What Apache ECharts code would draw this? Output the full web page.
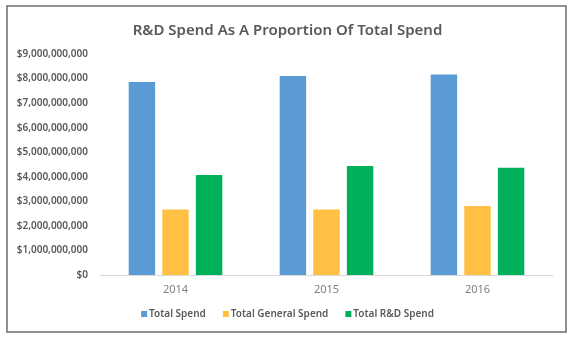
<!DOCTYPE html>
<html>
<head>
<meta charset="utf-8">
<script src="https://cdn.jsdelivr.net/npm/echarts@6/dist/echarts.min.js"></script>
<style>
html,body{margin:0;padding:0;background:#fff;}
#c{width:575px;height:340px;}
</style>
</head>
<body>
<div id="c"></div>
<script>
const categories = ['2014', '2015', '2016'];
const totalSpend = [7860000000, 8100000000, 8170000000];
const generalSpend = [2670000000, 2670000000, 2810000000];
const rdSpend = [4070000000, 4440000000, 4370000000];
const seriesNames = ['Total Spend', 'Total General Spend', 'Total R&D Spend'];
const colors = ['#5B9BD5', '#FFC044', '#00B05A'];

const chart = echarts.init(document.getElementById('c'), null, {renderer: 'canvas'});
function fmt(v){ return '$' + v.toLocaleString('en-US'); }
chart.setOption({
  animation: false,
  backgroundColor: '#fff',
  title: {
    text: 'R&D Spend As A Proportion Of Total Spend',
    left: 'center',
    top: 18,
    textStyle: {fontFamily: 'Noto Sans', fontSize: 15, fontWeight: 600, color: '#595959'}
  },
  graphic: [{
    type: 'rect',
    shape: {x: 7, y: 6, width: 559, height: 326},
    style: {fill: 'none', stroke: '#6b6b6b', lineWidth: 1.5},
    silent: true
  }],
  legend: {
    data: seriesNames,
    bottom: 16,
    left: 'center',
    itemWidth: 6,
    itemHeight: 6,
    itemGap: 17,
    icon: 'rect',
    textStyle: {fontFamily: 'Noto Sans', fontSize: 10, fontWeight: 600, color: '#595959', padding: [0,0,0,-3]}
  },
  grid: {left: 100, right: 22, top: 54, bottom: 65},
  xAxis: {
    type: 'category',
    data: categories,
    axisLine: {lineStyle: {color: '#d9d9d9'}},
    axisTick: {show: false},
    axisLabel: {fontFamily: 'Noto Sans', fontSize: 11, color: '#7f7f7f', margin: 9}
  },
  yAxis: {
    type: 'value',
    min: 0, max: 9000000000, interval: 1000000000,
    splitLine: {show: false},
    axisLine: {show: false},
    axisTick: {show: false},
    axisLabel: {formatter: fmt, fontFamily: 'Noto Sans', fontSize: 10, fontWeight: 600, color: '#595959', margin: 12}
  },
  series: [
    {name: seriesNames[0], type: 'bar', data: totalSpend, itemStyle: {color: colors[0]}, barGap: '27%', barCategoryGap: '38%'},
    {name: seriesNames[1], type: 'bar', data: generalSpend, itemStyle: {color: colors[1]}},
    {name: seriesNames[2], type: 'bar', data: rdSpend, itemStyle: {color: colors[2]}}
  ]
});
</script>
</body>
</html>
